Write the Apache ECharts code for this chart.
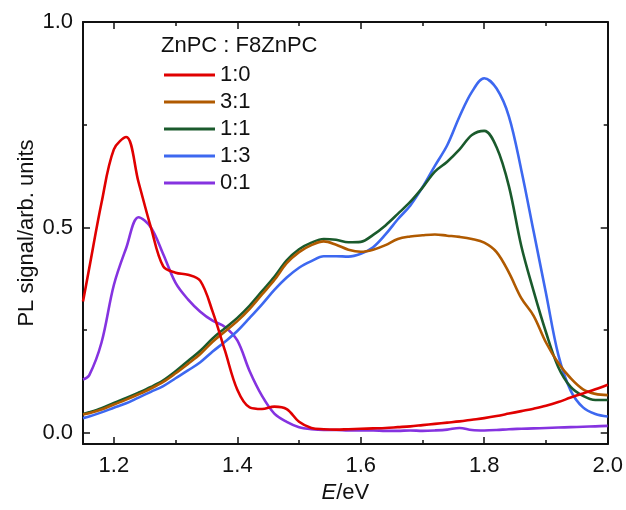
<!DOCTYPE html>
<html>
<head>
<meta charset="utf-8">
<script src="https://cdn.jsdelivr.net/npm/echarts@6/dist/echarts.min.js"></script>
<style>html,body{margin:0;padding:0;background:#fff}#c{width:626px;height:510px}</style>
</head>
<body>
<div id="c"></div>
<script>
// Photon energy grid (eV)
var energy = [1.15,1.16,1.18,1.20,1.22,1.24,1.26,1.28,1.30,1.32,1.34,1.36,1.38,1.40,1.42,1.44,1.46,1.48,1.50,1.52,1.54,1.56,1.58,1.60,1.62,1.64,1.66,1.68,1.70,1.72,1.74,1.76,1.78,1.80,1.82,1.84,1.86,1.88,1.90,1.92,1.94,1.96,1.98,2.00];
// PL signal (arb. units)
var s10 = [0.32,0.40,0.56,0.69,0.72,0.61,0.50,0.405,0.39,0.385,0.37,0.295,0.20,0.105,0.062,0.058,0.064,0.058,0.027,0.012,0.009,0.008,0.009,0.010,0.011,0.012,0.014,0.016,0.019,0.022,0.025,0.028,0.032,0.036,0.041,0.047,0.053,0.059,0.066,0.075,0.086,0.096,0.106,0.117];
var s31 = [0.045,0.048,0.057,0.069,0.081,0.094,0.108,0.124,0.145,0.168,0.192,0.222,0.247,0.272,0.302,0.337,0.372,0.413,0.440,0.457,0.466,0.458,0.446,0.441,0.446,0.457,0.472,0.478,0.481,0.483,0.480,0.477,0.472,0.463,0.440,0.390,0.328,0.285,0.220,0.170,0.133,0.106,0.095,0.092];
var s11 = [0.046,0.050,0.060,0.073,0.085,0.098,0.112,0.128,0.150,0.175,0.200,0.230,0.255,0.280,0.310,0.345,0.380,0.420,0.447,0.463,0.472,0.470,0.464,0.465,0.482,0.505,0.533,0.562,0.597,0.636,0.660,0.690,0.725,0.735,0.695,0.600,0.455,0.345,0.245,0.160,0.112,0.090,0.080,0.080];
var s13 = [0.036,0.040,0.050,0.061,0.072,0.086,0.100,0.114,0.133,0.152,0.172,0.198,0.222,0.248,0.280,0.313,0.348,0.378,0.402,0.418,0.430,0.430,0.429,0.436,0.452,0.483,0.520,0.553,0.598,0.650,0.700,0.770,0.830,0.863,0.838,0.770,0.640,0.490,0.340,0.190,0.103,0.062,0.046,0.040];
var s01 = [0.13,0.14,0.22,0.36,0.45,0.525,0.50,0.435,0.365,0.325,0.295,0.273,0.258,0.225,0.150,0.090,0.047,0.027,0.014,0.009,0.007,0.007,0.006,0.006,0.006,0.005,0.005,0.006,0.005,0.006,0.008,0.012,0.007,0.006,0.007,0.009,0.010,0.011,0.012,0.013,0.014,0.015,0.016,0.017];
var seriesNames = ['1:0','3:1','1:1','1:3','0:1'];
var seriesValues = [s10, s31, s11, s13, s01];
var colors = ['#e00000','#b05a00','#1a5a2c','#3d68f0','#8533e0'];
var xMajor = [1.2,1.4,1.6,1.8,2.0];
var xMinor = [1.3,1.5,1.7,1.9];
var yMajor = [0.0,0.5,1.0];
var yMinor = [0.25,0.75];

var chart = echarts.init(document.getElementById('c'), null, {renderer:'canvas'});
var FONT = 'Liberation Sans';
var XMIN = 1.15, XMAX = 2.0, YMIN = -0.027, YMAX = 1.0;
function xAx(pos, major, showLine, showLabel) {
  return {
    type:'value', position:pos, min:XMIN, max:XMAX,
    axisLine:{show:showLine, onZero:false, lineStyle:{color:'#111', width:2}},
    axisTick:{show:true, inside:true, length: major?7:4, lineStyle:{color:'#111', width:1.5},
      customValues: major?xMajor:xMinor},
    axisLabel:{show:showLabel, customValues:xMajor, color:'#111', fontFamily:FONT, fontSize:22, margin:11,
      formatter:function(v){return v.toFixed(1);}},
    splitLine:{show:false}
  };
}
function yAx(pos, major, showLine, showLabel) {
  return {
    type:'value', position:pos, min:YMIN, max:YMAX,
    axisLine:{show:showLine, onZero:false, lineStyle:{color:'#111', width:2}},
    axisTick:{show:true, inside:true, length: major?7:4, lineStyle:{color:'#111', width:1.5},
      customValues: major?yMajor:yMinor},
    axisLabel:{show:showLabel, customValues:yMajor, color:'#111', fontFamily:FONT, fontSize:22, margin:10,
      formatter:function(v){return v.toFixed(1);}},
    splitLine:{show:false}
  };
}
var xAxes = [xAx('bottom',true,true,true), xAx('bottom',false,false,false), xAx('top',true,true,false), xAx('top',false,false,false)];
xAxes[0].name = '{i|E}/eV';
xAxes[0].nameLocation = 'middle';
xAxes[0].nameGap = 38;
xAxes[0].nameMoveOverlap = false;
xAxes[0].nameTextStyle = {fontFamily:FONT, fontSize:22, color:'#111', rich:{i:{fontFamily:FONT, fontSize:22, fontStyle:'italic', color:'#111'}}};
var yAxes = [yAx('left',true,true,true), yAx('left',false,false,false), yAx('right',true,true,false), yAx('right',false,false,false)];
yAxes[0].name = 'PL signal/arb. units';
yAxes[0].nameLocation = 'middle';
yAxes[0].nameGap = 45;
yAxes[0].nameMoveOverlap = false;
yAxes[0].nameTextStyle = {fontFamily:FONT, fontSize:22, color:'#111'};

var series = seriesNames.map(function(n, k){
  return {
    name:n, type:'line', xAxisIndex:0, yAxisIndex:0, showSymbol:false, symbol:'none',
    smooth:0.35, z: 10 - k + (k===0?10:0),
    lineStyle:{color:colors[k], width:2.6},
    itemStyle:{color:colors[k]},
    data: energy.map(function(e,i){return [e, seriesValues[k][i]];})
  };
});

chart.setOption({
  animation:false,
  backgroundColor:'#fff',
  grid:{left:83, right:16, top:22, bottom:66, containLabel:false},
  title:{text:'ZnPC : F8ZnPC', left:156, top:30, textStyle:{fontFamily:FONT, fontSize:22, fontWeight:'normal', color:'#111'}},
  legend:{
    orient:'vertical', left:159, top:59, itemWidth:51, itemHeight:3, itemGap:5,
    icon:'rect',
    textStyle:{fontFamily:FONT, fontSize:22, color:'#111', lineHeight:22},
    data: seriesNames
  },
  xAxis:xAxes,
  yAxis:yAxes,
  series:series
});
</script>
</body>
</html>
